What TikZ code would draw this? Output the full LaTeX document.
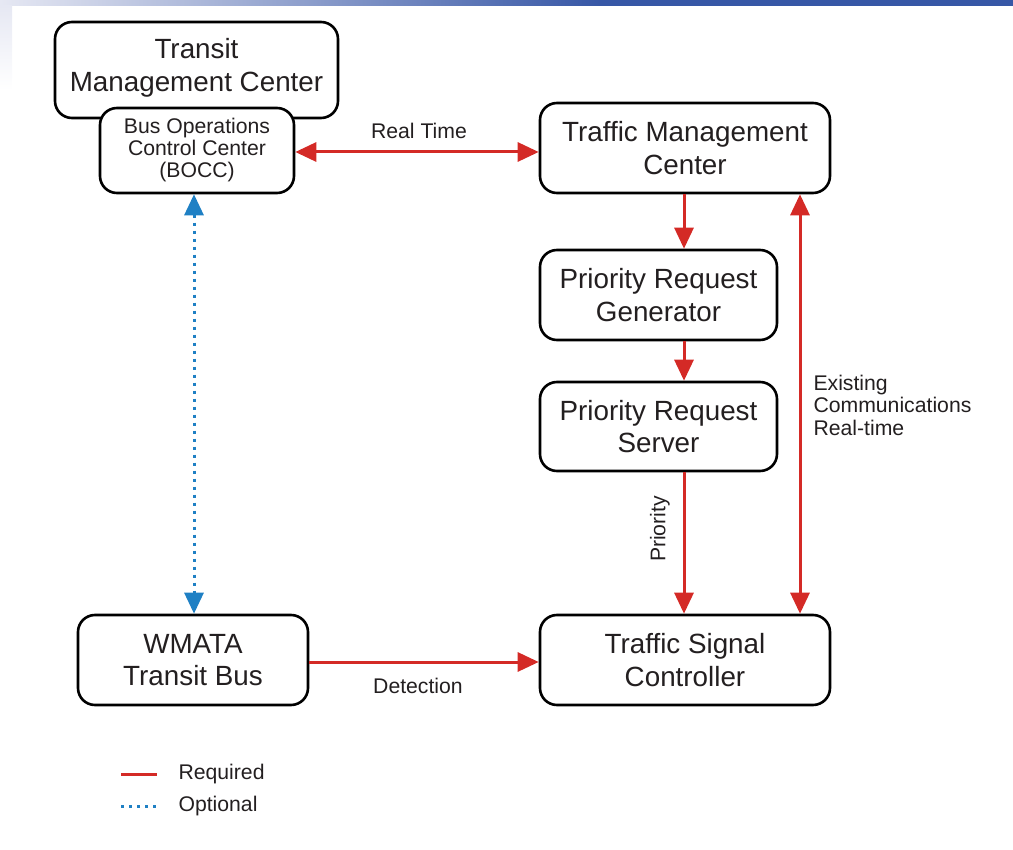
\documentclass[tikz,border=0pt]{standalone}
\usepackage{fontspec}
\setmainfont{Liberation Sans}
\usepackage{tikz}
\usetikzlibrary{arrows.meta,calc}
\definecolor{istekKirmizi}{HTML}{D42A26}
\definecolor{secMavi}{HTML}{1F80C4}
\definecolor{yaziGri}{HTML}{231F20}
\definecolor{seritMavi}{HTML}{3757A6}
\definecolor{seritAcik}{HTML}{E6E8F3}
\tikzset{
  kutu/.style={draw=black,line width=2.6pt,rounded corners=17pt,fill=white,
    text=yaziGri,align=center,font=\fontsize{27.8}{32.5}\selectfont},
  kucukKutu/.style={kutu,font=\fontsize{21.2}{22}\selectfont},
  etiket/.style={text=yaziGri,font=\fontsize{21.2}{22.5}\selectfont},
  gerekli/.style={istekKirmizi,line width=3pt,
    -{Triangle[length=21pt,width=19pt]}},
  gerekliIki/.style={gerekli,{Triangle[length=21pt,width=19pt]}-{Triangle[length=21pt,width=19pt]}},
  istege/.style={secMavi,line width=3pt,dash pattern=on 3pt off 5pt,
    {Triangle[length=21pt,width=19pt]}-{Triangle[length=21pt,width=19pt]}}
}
\begin{document}
\begin{tikzpicture}[x=1pt,y=-1pt]
\useasboundingbox (0,0) rectangle (1013,850);
% slide kenarlari
\shade[left color=seritAcik,right color=seritMavi] (0,0) rectangle (600,6);
\fill[seritMavi] (600,0) rectangle (1013,6);
\shade[top color=seritAcik,bottom color=white] (0,6) rectangle (12,90);

% kutular
\node[kutu,minimum width=283pt,minimum height=96pt,text depth=10pt] (tmcT) at (196.5,70) {Transit\\Management Center};
\node[kucukKutu,minimum width=194pt,minimum height=85pt] (bocc) at (197,150.5) {Bus Operations\\Control Center\\(BOCC)};
\node[kutu,minimum width=290pt,minimum height=90pt] (tmc) at (685,148) {Traffic Management\\Center};
\node[kutu,minimum width=237pt,minimum height=90pt] (prg) at (658.5,295) {Priority Request\\Generator};
\node[kutu,minimum width=237pt,minimum height=89pt] (prs) at (658.5,426.5) {Priority Request\\Server};
\node[kutu,minimum width=230pt,minimum height=90pt] (bus) at (193,660) {WMATA\\Transit Bus};
\node[kutu,minimum width=290pt,minimum height=90pt] (tsc) at (685,660) {Traffic Signal\\Controller};

% baglantilar
\coordinate (dikey) at (684,0);
\coordinate (mevcut) at (800,0);
\draw[gerekliIki] (bocc.east |- 0,152) -- (tmc.west |- 0,152);
\draw[gerekli] (tmc.south -| dikey) -- (prg.north -| dikey);
\draw[gerekli] (prg.south -| dikey) -- (prs.north -| dikey);
\draw[gerekli] (prs.south -| dikey) -- (tsc.north -| dikey);
\draw[gerekliIki] (tmc.south -| mevcut) -- (tsc.north -| mevcut);
\draw[istege] (bocc.south -| 194,0) -- (bus.north -| 194,0);
\draw[gerekli] (bus.east |- 0,662) -- (tsc.west |- 0,662);

% etiketler
\node[etiket] (gercek) at (419,131) {Real Time};
\node[etiket] (tespit) at (418,686) {Detection};
\node[etiket,rotate=90] (oncelik) at (660,529) {Priority};
\node[etiket,anchor=west,align=left] (iletisim) at (810,405) {Existing\\Communications\\Real-time};

% lejant
\draw[istekKirmizi,line width=3pt] (121,774) -- (157,774);
\draw[secMavi,line width=3pt,dash pattern=on 3pt off 5pt] (121,806) -- (157,806);
\node[etiket,anchor=west] (lejantG) at (175,774) {Required};
\node[etiket,anchor=west] (lejantI) at (175,806) {Optional};
\end{tikzpicture}
\end{document}
